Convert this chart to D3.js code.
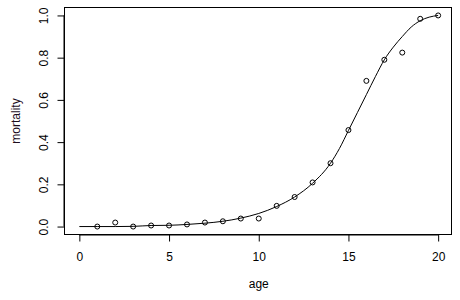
<!DOCTYPE html>
<html>
<head>
<meta charset="utf-8">
<script src="https://cdn.jsdelivr.net/npm/d3@7"></script>
<style>
  html, body { margin: 0; padding: 0; background: #ffffff; }
  svg { display: block; font-family: "Liberation Sans", Arial, sans-serif; }
</style>
</head>
<body>
<div id="chart"></div>
<script>
// observed mortality by age (open circles)
var ages       = [1, 2, 3, 4, 5, 6, 7, 8, 9, 10, 11, 12, 13, 14, 15, 16, 17, 18, 19, 20];
var mortality  = [0.000, 0.019, 0.000, 0.005, 0.005, 0.010, 0.019, 0.025, 0.038, 0.038,
                  0.098, 0.140, 0.209, 0.300, 0.457, 0.690, 0.790, 0.824, 0.984, 1.000];
// fitted curve
var fit_ages   = [0, 1, 2, 3, 4, 5, 6, 7, 8, 9, 10, 11, 12, 13, 14, 14.5, 15, 15.5,
                  16, 16.5, 17, 17.5, 18, 18.5, 19, 19.5, 20];
var fit_values = [0.000, 0.000, 0.000, 0.001, 0.005, 0.006, 0.010, 0.016, 0.025, 0.040,
                  0.062, 0.095, 0.140, 0.205, 0.300, 0.370, 0.455, 0.540,
                  0.625, 0.710, 0.790, 0.850, 0.900, 0.945, 0.975, 0.992, 1.000];
var x_ticks    = [0, 5, 10, 15, 20];
var y_ticks    = [0, 0.2, 0.4, 0.6, 0.8, 1.0];
var x_title    = "age";
var y_title    = "mortality";

var width  = 460;
var height = 300;

var svg = d3.select("#chart").append("svg")
  .attr("width", width)
  .attr("height", height);

var x = d3.scaleLinear()
  .domain([-0.8, 20.8])
  .range([65, 452.5]);
var y = d3.scaleLinear()
  .domain([-0.04, 1.04])
  .range([235, 7]);

// plot box
svg.append("rect")
  .attr("x", 64.5)
  .attr("y", 7.5)
  .attr("width", 387)
  .attr("height", 227)
  .attr("fill", "none")
  .attr("stroke", "#000")
  .attr("stroke-width", 1);

// x axis
var x_axis = svg.append("g")
  .attr("transform", "translate(0,234.5)")
  .call(d3.axisBottom(x).tickValues(x_ticks).tickSize(7).tickPadding(11).tickFormat(d3.format("d")));
x_axis.select(".domain")
  .attr("d", "M" + x(0) + ",0.5H" + x(20));
x_axis.selectAll("text")
  .attr("font-size", 12)
  .attr("font-family", "Liberation Sans, Arial, sans-serif")
  .attr("fill", "#000");

// y axis, labels turned like R
var y_axis = svg.append("g")
  .attr("transform", "translate(64.5,0)")
  .call(d3.axisLeft(y).tickValues(y_ticks).tickSize(7).tickFormat(d3.format(".1f")));
y_axis.select(".domain")
  .attr("d", "M-0.5," + y(0) + "V" + y(1));
y_axis.selectAll(".tick text")
  .attr("font-size", 12)
  .attr("font-family", "Liberation Sans, Arial, sans-serif")
  .attr("fill", "#000")
  .attr("text-anchor", "middle")
  .attr("dy", null)
  .attr("x", null)
  .attr("transform", "translate(-16.5,0) rotate(-90)");

// titles
svg.append("text")
  .attr("x", x(10))
  .attr("y", 288)
  .attr("text-anchor", "middle")
  .attr("font-size", 12)
  .text(x_title);
svg.append("text")
  .attr("transform", "translate(20," + ((7 + 235) / 2) + ") rotate(-90)")
  .attr("text-anchor", "middle")
  .attr("font-size", 12)
  .attr("fill", "#1c0c1c")
  .text(y_title);

// fitted curve
var line = d3.line()
  .curve(d3.curveMonotoneX)
  .x(function (d, i) { return x(fit_ages[i]); })
  .y(function (d) { return y(d); });
svg.append("path")
  .datum(fit_values)
  .attr("d", line)
  .attr("fill", "none")
  .attr("stroke", "#000")
  .attr("stroke-width", 1);

// observed points
svg.append("g").selectAll("circle")
  .data(mortality)
  .enter().append("circle")
  .attr("cx", function (d, i) { return x(ages[i]); })
  .attr("cy", function (d) { return y(d); })
  .attr("r", 2.5)
  .attr("fill", "none")
  .attr("stroke", "#000")
  .attr("stroke-width", 1);
</script>
</body>
</html>
